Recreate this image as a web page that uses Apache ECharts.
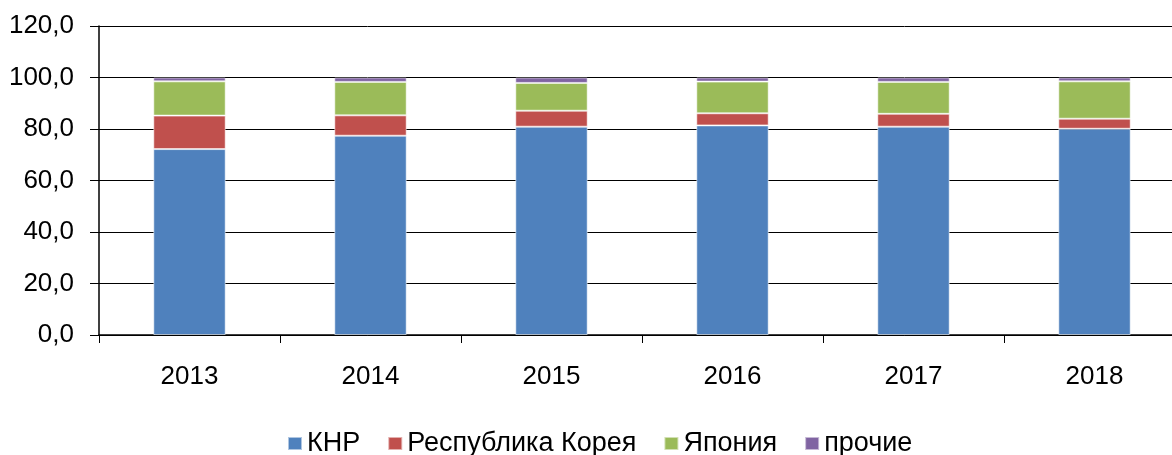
<!DOCTYPE html>
<html>
<head>
<meta charset="utf-8">
<script src="https://cdn.jsdelivr.net/npm/echarts@6/dist/echarts.min.js"></script>
<style>
  html, body { margin: 0; padding: 0; background: #fff; }
  #chart { width: 1172px; height: 455px; }
</style>
</head>
<body>
<div id="chart"></div>
<script>
const years = ['2013', '2014', '2015', '2016', '2017', '2018']
const knr = [72.2, 77.4, 80.9, 81.4, 80.9, 80.1]
const korea = [13.0, 7.9, 6.2, 4.7, 5.0, 3.9]
const japan = [13.3, 13.0, 10.8, 12.3, 12.4, 14.5]
const other = [1.5, 1.7, 2.1, 1.6, 1.7, 1.5]

const seriesNames = ['КНР', 'Республика Корея', 'Япония', 'прочие']
const colors = ['#4F81BD', '#C0504D', '#9BBB59', '#8064A2']

const chart = echarts.init(document.getElementById('chart'))

function bar(name, data, color) {
  return {
    name: name,
    type: 'bar',
    stack: 'total',
    data: data,
    barWidth: '40%',
    itemStyle: { color: color, borderColor: 'rgba(255,255,255,0.55)', borderWidth: 1 }
  }
}

chart.setOption({
  animation: false,
  textStyle: { fontFamily: 'Liberation Sans, Arial, sans-serif' },
  color: colors,
  // plot area runs a little past the right edge of the picture
  grid: { left: 99, width: 1086, top: 26, bottom: 120, outerBoundsMode: 'none' },
  legend: {
    top: 430,
    left: 287,
    padding: 0,
    itemWidth: 14,
    itemHeight: 13,
    itemGap: 27,
    icon: 'rect',
    textStyle: { fontSize: 27, color: '#000' },
    data: seriesNames
  },
  xAxis: {
    type: 'category',
    data: years,
    axisLine: { lineStyle: { color: '#000', width: 1.5 } },
    axisTick: { show: true, length: 8, lineStyle: { color: '#000', width: 1 } },
    axisLabel: { fontSize: 26, color: '#000', margin: 29 }
  },
  yAxis: {
    type: 'value',
    min: 0,
    max: 120,
    interval: 20,
    axisLine: { show: true, lineStyle: { color: '#000', width: 1.5 } },
    axisTick: { show: true, length: 9, lineStyle: { color: '#000' } },
    splitLine: { lineStyle: { color: '#000', width: 1 } },
    axisLabel: {
      fontSize: 26,
      color: '#000',
      margin: 25,
      formatter: v => v.toFixed(1).replace('.', ',')
    }
  },
  series: [
    bar(seriesNames[0], knr, colors[0]),
    bar(seriesNames[1], korea, colors[1]),
    bar(seriesNames[2], japan, colors[2]),
    bar(seriesNames[3], other, colors[3])
  ]
})
</script>
</body>
</html>
